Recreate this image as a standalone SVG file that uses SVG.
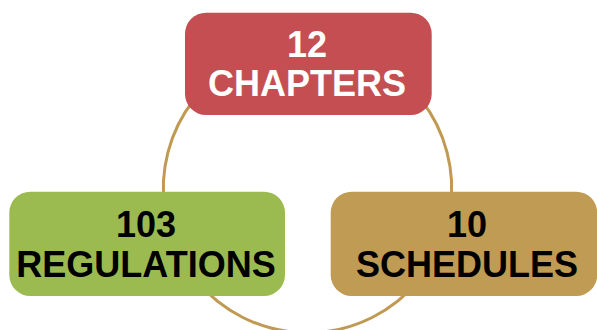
<svg xmlns="http://www.w3.org/2000/svg" width="597" height="330" viewBox="0 0 597 330">
<style>
.conn{fill:none;stroke:#C09A52;stroke-width:3}
.lbl{font-family:"Liberation Sans",Arial,sans-serif;font-weight:bold;font-size:36px;text-anchor:middle}
</style>
<rect width="597" height="330" fill="#FFFFFF"/>
<g id="connectors">
<path class="conn" d="M421.3,100 A144.2,144.2 0 0 1 450.1,210"/>
<path class="conn" d="M419,280 A144.2,144.2 0 0 1 196,280"/>
<path class="conn" d="M164.9,210 A144.2,144.2 0 0 1 193.7,100"/>
</g>
<g id="chapters">
<rect x="185" y="12.7" width="246.7" height="102.3" rx="21" fill="#C44E52"/>
<text class="lbl" fill="#FFFFFF" x="307" y="56.5">12</text>
<text class="lbl" fill="#FFFFFF" x="307" y="96">CHAPTERS</text>
</g>
<g id="regulations">
<rect x="9.3" y="191.7" width="275.7" height="104.3" rx="21" fill="#9BBB50"/>
<text class="lbl" fill="#000000" x="146" y="236.5">103</text>
<text class="lbl" fill="#000000" x="146" y="276.5">REGULATIONS</text>
</g>
<g id="schedules">
<rect x="330.7" y="191.7" width="266.5" height="104.3" rx="21" fill="#BF9B53"/>
<text class="lbl" fill="#000000" x="467" y="236.5">10</text>
<text class="lbl" fill="#000000" x="467" y="276.5">SCHEDULES</text>
</g>
</svg>
